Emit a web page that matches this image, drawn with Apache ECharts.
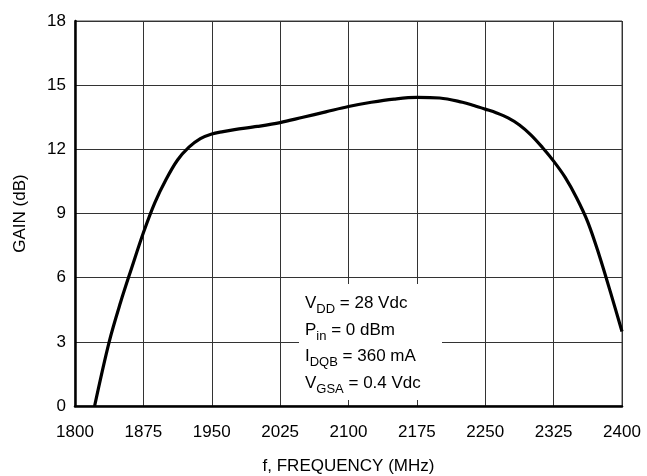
<!DOCTYPE html>
<html>
<head>
<meta charset="utf-8">
<script src="https://cdn.jsdelivr.net/npm/echarts@6/dist/echarts.min.js"></script>
<style>html,body{margin:0;padding:0;background:#fff;}#c{width:647px;height:476px;}</style>
</head>
<body>
<div id="c"></div>
<script>
var freq = [1821.5,1837.5,1850,1862.5,1875,1887.5,1900,1912.5,1925,1937.5,1950,1962.5,1975,2000,2025,2050,2075,2100,2125,2150,2175,2200,2225,2237.5,2250,2262.5,2275,2287.5,2300,2312.5,2325,2337.5,2350,2362.5,2375,2387.5,2400];
var gain = [0,3,4.85,6.5,8.1,9.5,10.6,11.5,12.1,12.5,12.72,12.83,12.92,13.07,13.25,13.5,13.75,14.0,14.2,14.35,14.43,14.4,14.2,14.05,13.88,13.7,13.47,13.14,12.68,12.1,11.45,10.7,9.75,8.6,7.05,5.3,3.48];
var xTicks = [1800,1875,1950,2025,2100,2175,2250,2325,2400];
var yTicks = [0,3,6,9,12,15,18];
var noteLines = [['V','DD',' = 28 Vdc'],['P','in',' = 0 dBm'],['I','DQB',' = 360 mA'],['V','GSA',' = 0.4 Vdc']];

var FONT = '"Liberation Sans", Arial, sans-serif';
var chart = echarts.init(document.getElementById('c'));
var pts = freq.map(function(f,i){return [f,gain[i]];});
var noteText = noteLines.map(function(l){return '{n|'+l[0]+'}{s|'+l[1]+'}{n|'+l[2]+'}';}).join('\n');

chart.setOption({
  animation:false,
  backgroundColor:'#fff',
  grid:{left:75,right:25,top:21,bottom:70,show:true,borderColor:'#444',borderWidth:1,
    containLabel:false,outerBoundsMode:'none'},
  xAxis:{type:'value',min:xTicks[0],max:xTicks[xTicks.length-1],interval:75,
    name:'f, FREQUENCY (MHz)',nameLocation:'middle',nameGap:52,
    nameTextStyle:{fontFamily:FONT,fontSize:17,color:'#000'},
    axisLine:{show:true,onZero:false,lineStyle:{color:'#000',width:2.5}},
    axisTick:{show:false},
    axisLabel:{fontFamily:FONT,fontSize:17,color:'#000',margin:18,formatter:function(v){return String(v);}},
    splitLine:{show:true,lineStyle:{color:'#333',width:1}}},
  yAxis:{type:'value',min:yTicks[0],max:yTicks[yTicks.length-1],interval:3,
    name:'GAIN (dB)',nameLocation:'middle',nameGap:46,
    nameTextStyle:{fontFamily:FONT,fontSize:17,color:'#000'},
    axisLine:{show:true,onZero:false,lineStyle:{color:'#000',width:2.5}},
    axisTick:{show:false},
    axisLabel:{fontFamily:FONT,fontSize:17,color:'#000',margin:9},
    splitLine:{show:true,lineStyle:{color:'#333',width:1}}},
  series:[{type:'line',data:pts,smooth:0.35,showSymbol:false,
    lineStyle:{color:'#000',width:3.2}}],
  graphic:[
    {type:'rect',shape:{x:299,y:284,width:143,height:116},style:{fill:'#fff'},z:10},
    {type:'text',left:305,top:291,z:11,style:{text:noteText,fill:'#000',
      rich:{n:{fontFamily:FONT,fontSize:17,lineHeight:26.5,verticalAlign:'middle',fill:'#000'},
            s:{fontFamily:FONT,fontSize:13,lineHeight:26.5,padding:[12,0,0,0],verticalAlign:'middle',fill:'#000'}}}}
  ]
});
</script>
</body>
</html>
